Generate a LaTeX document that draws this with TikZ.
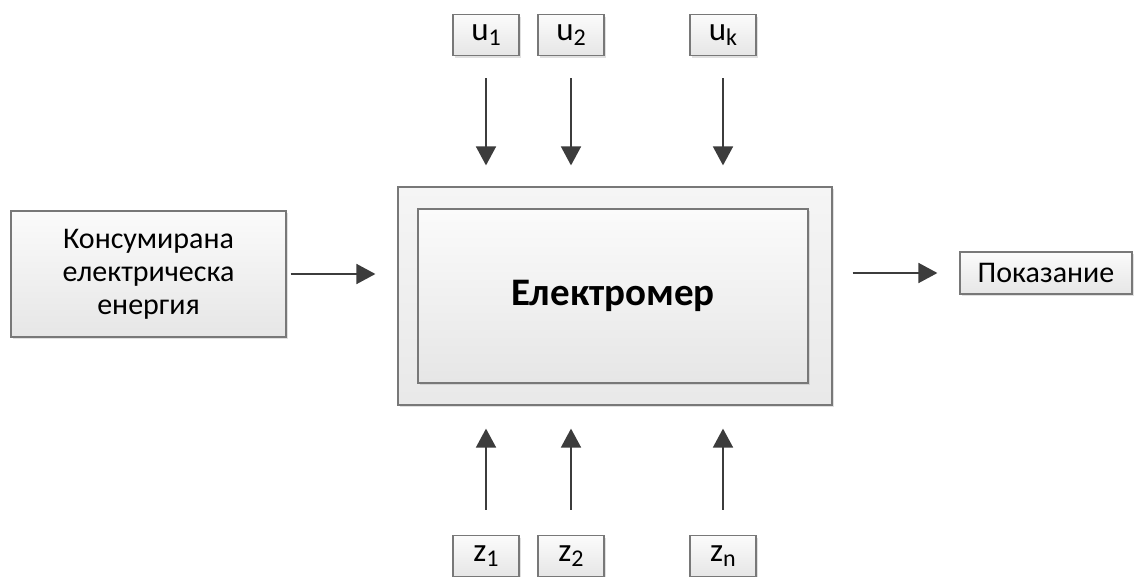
\documentclass[tikz,border=0pt]{standalone}
\usepackage{fontspec}
\setmainfont{Carlito}
\usetikzlibrary{arrows.meta,positioning,shadows}
\definecolor{edge}{RGB}{120,120,120}
\definecolor{ink}{RGB}{60,60,60}
\definecolor{boxtop}{RGB}{251,251,251}
\definecolor{boxbot}{RGB}{230,230,230}
\definecolor{frame}{RGB}{245,245,245}
\newcommand{\sbs}[1]{\raisebox{-0.35ex}{\fontsize{24}{24}\selectfont #1}}
\tikzset{
  blk/.style={draw=edge,line width=1.2pt,top color=boxtop,bottom color=boxbot,
    drop shadow={shadow xshift=2pt,shadow yshift=-2pt,fill=black!30,opacity=0.4},
    inner sep=0pt,align=center,font=\fontsize{30}{33}\selectfont},
  sig/.style={blk,minimum width=66pt,minimum height=41pt,font=\fontsize{33}{36}\selectfont},
  flow/.style={draw=ink,line width=1.8pt,-{Triangle[length=19pt,width=20pt]}}
}

\begin{document}
\begin{tikzpicture}[x=1pt,y=-1pt]
  \useasboundingbox (0,0) rectangle (1138,576);
  % meter block
  \node[blk,fill=frame,top color=frame,bottom color=frame!95!black,
        minimum width=434pt,minimum height=218pt] (frm) at (615,296) {};
  \node[blk,minimum width=390pt,minimum height=174pt,
        font=\fontsize{39}{44}\selectfont\bfseries] (meter) at (613,296) {Електромер};
  % input and output
  \node[blk,minimum width=275pt,minimum height=126pt] (cons) at (148.5,274)
    {Консумирана\\електрическа\\енергия};
  \node[blk,minimum width=172pt,minimum height=42pt] (read) at (1046,273) {Показание};
  % control inputs
  \node[sig] (u1) at (486,35) {u\sbs{1}};
  \node[sig] (u2) at (571,35) {u\sbs{2}};
  \node[sig] (uk) at (723,35) {u\sbs{k}};
  % disturbances
  \node[sig] (z1) at (486,556) {z\sbs{1}};
  \node[sig] (z2) at (571,556) {z\sbs{2}};
  \node[sig] (zn) at (723,556) {z\sbs{n}};

  \foreach \s in {u1,u2,uk}
    \draw[flow,shorten <=22pt,shorten >=21pt] (\s.south) -- (\s.south |- frm.north);
  \foreach \s in {z1,z2,zn}
    \draw[flow,shorten <=25pt,shorten >=23pt] (\s.north) -- (\s.north |- frm.south);
  \draw[flow,shorten <=4pt,shorten >=22pt] (cons.east) -- (cons.east -| frm.west);
  \draw[flow,shorten <=20pt,shorten >=22pt] (frm.east |- read.west) -- (read.west);
\end{tikzpicture}
\end{document}
